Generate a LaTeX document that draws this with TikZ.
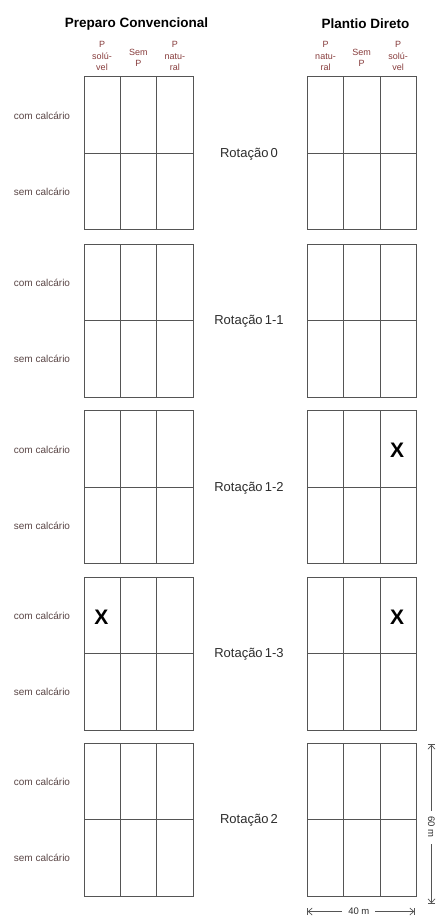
\documentclass[tikz,border=0pt]{standalone}
\usepackage{fontspec}
\setmainfont{Liberation Sans}
\usetikzlibrary{arrows.meta}
\definecolor{lblc}{RGB}{90,70,70}
\definecolor{hdrc}{RGB}{135,60,60}
\definecolor{gridc}{RGB}{85,85,85}
\definecolor{rotc}{RGB}{45,45,45}
\begin{document}
\begin{tikzpicture}[x=1pt,y=-1pt,
  gridline/.style={draw=gridc,line width=1pt},
  title/.style={font=\fontsize{13.5}{15}\selectfont\bfseries,inner sep=0pt},
  colhdr/.style={font=\fontsize{9}{11.2}\selectfont,text=hdrc,align=center,inner sep=0pt},
  sidelbl/.style={font=\fontsize{10}{12}\selectfont,text=lblc,inner sep=0pt},
  rotlbl/.style={font=\fontsize{13}{15}\selectfont,text=rotc,inner sep=0pt},
  xmark/.style={font=\fontsize{21}{24}\selectfont\bfseries,inner sep=0pt},
  dimline/.style={draw=gridc,line width=0.7pt,{Bar[width=7pt]Straight Barb[length=4pt,width=7pt]}-{Straight Barb[length=4pt,width=7pt]Bar[width=7pt]}},
  dimlbl/.style={font=\fontsize{9.5}{11}\selectfont,text=rotc,fill=white,inner xsep=6pt,inner ysep=1pt}]
\fill[white] (0,0) rectangle (436,917);
\useasboundingbox (0,0) rectangle (436,917);
% titles
\node[title] (t1) at (136.5,24) {Preparo Convencional};
\node[title] (t2) at (365.5,24) {Plantio Direto};
% column headers
\node[colhdr] (h1) at (102,56) {P\\solú-\\vel};
\node[colhdr] (h2) at (138.3,57.5) {Sem\\P};
\node[colhdr] (h3) at (174.8,56) {P\\natu-\\ral};
\node[colhdr] (h4) at (325.5,56) {P\\natu-\\ral};
\node[colhdr] (h5) at (361.5,57.5) {Sem\\P};
\node[colhdr] (h6) at (398,56) {P\\solú-\\vel};
% grids
\foreach \t/\r [count=\i] in {77/0, 244/1-1, 410.5/1-2, 577/1-3, 743/2} {
  \foreach \x in {84,307.5} {
    \draw[gridline] (\x,\t) rectangle (\x+109,\t+153);
    \draw[gridline] (\x+36,\t) -- (\x+36,\t+153);
    \draw[gridline] (\x+72.5,\t) -- (\x+72.5,\t+153);
    \draw[gridline] (\x,\t+76.5) -- (\x+109,\t+76.5);
  }
  \node[sidelbl] (com\i) at (42,\t+39) {com calcário};
  \node[sidelbl] (sem\i) at (42,\t+115) {sem calcário};
  \node[rotlbl] (rot\i) at (249,\t+77.5) {Rotação\,\r};
}
% X marks
\node[xmark] (x1) at (397,450) {X};
\node[xmark] (x2) at (397,617) {X};
\node[xmark] (x3) at (101.5,617) {X};
% dimensions
\coordinate (vtop) at (431.5,744);
\coordinate (vbot) at (431.5,904);
\coordinate (hl) at (307,911.5);
\coordinate (hr) at (415,911.5);
\draw[dimline] (vtop) -- (vbot) node[dimlbl,pos=0.52,rotate=-90] (d60) {60 m};
\draw[dimline] (hl) -- (hr) node[dimlbl,pos=0.48] (d40) {40 m};
\end{tikzpicture}
\end{document}
